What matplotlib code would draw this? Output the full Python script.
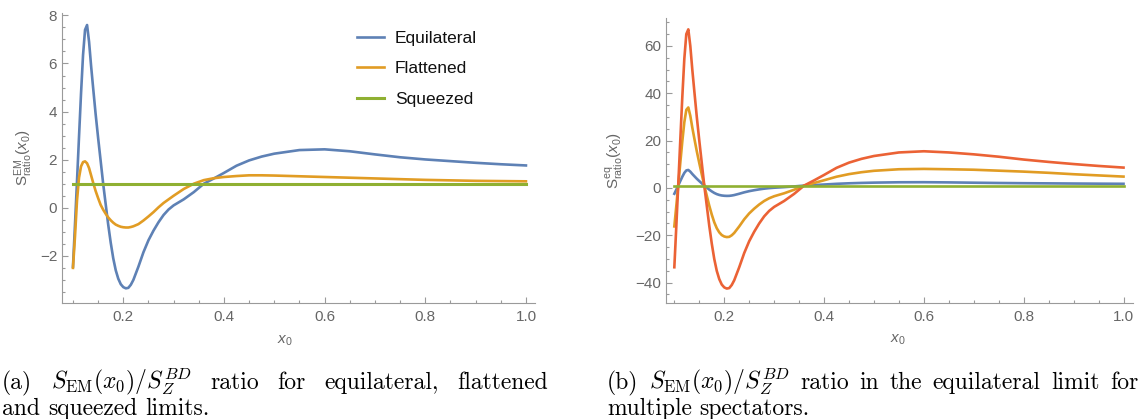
import matplotlib
matplotlib.use("Agg")
import matplotlib.pyplot as plt
from matplotlib.ticker import MultipleLocator, FixedLocator

# ---------------- data ----------------
x0 = [0.100, 0.104, 0.108, 0.112, 0.116, 0.120, 0.124, 0.128, 0.132, 0.136,
      0.140, 0.145, 0.150, 0.155, 0.160, 0.165, 0.170, 0.175, 0.180, 0.185,
      0.190, 0.195, 0.200, 0.205, 0.210, 0.215, 0.220, 0.230, 0.240, 0.250,
      0.260, 0.270, 0.280, 0.290, 0.300, 0.320, 0.340, 0.360, 0.380, 0.400,
      0.425, 0.450, 0.475, 0.500, 0.550, 0.600, 0.650, 0.700, 0.750, 0.800,
      0.850, 0.900, 0.950, 1.000]

equilateral = [-2.45, -0.70, 1.10, 2.95, 4.75, 6.35, 7.40, 7.60, 6.90, 5.90,
               5.00, 3.90, 2.90, 1.95, 1.00, 0.15, -0.70, -1.45, -2.10, -2.60,
               -2.95, -3.18, -3.30, -3.35, -3.33, -3.20, -3.00, -2.45, -1.85, -1.35,
               -0.95, -0.60, -0.30, -0.07, 0.10, 0.35, 0.65, 1.00, 1.22, 1.45,
               1.75, 1.97, 2.13, 2.25, 2.40, 2.43, 2.35, 2.22, 2.10, 2.01,
               1.94, 1.87, 1.81, 1.76]

flattened = [-2.50, -1.20, 0.30, 1.25, 1.72, 1.90, 1.93, 1.85, 1.65, 1.35,
             1.05, 0.70, 0.40, 0.12, -0.08, -0.25, -0.40, -0.52, -0.62, -0.70,
             -0.75, -0.79, -0.81, -0.82, -0.82, -0.80, -0.77, -0.68, -0.53, -0.36,
             -0.18, 0.02, 0.20, 0.35, 0.50, 0.78, 1.00, 1.15, 1.23, 1.28,
             1.32, 1.35, 1.35, 1.34, 1.31, 1.28, 1.25, 1.22, 1.19, 1.16,
             1.14, 1.12, 1.11, 1.10]

squeezed = [1.0] * len(x0)

# right panel: equilateral limit for several spectators
spect_orange = [-16.25, -7.5, 1.5, 10.75, 19.75, 27.75, 33.0, 34.0, 30.5, 25.5,
                21.0, 15.5, 10.5, 5.75, 1.0, -3.25, -7.5, -11.25, -14.5, -17.0,
                -18.75, -19.9, -20.5, -20.75, -20.65, -20.0, -19.0, -16.25, -13.25, -10.75,
                -8.75, -7.0, -5.5, -4.35, -3.5, -2.25, -0.75, 1.0, 2.1, 3.25,
                4.75, 5.85, 6.65, 7.25, 7.9, 8.05, 7.9, 7.7, 7.3, 6.9,
                6.4, 5.8, 5.3, 4.8]

spect_red = [-33.5, -16.0, 2.0, 20.5, 38.5, 54.5, 65.0, 67.0, 60.0, 50.0,
             41.0, 30.0, 20.0, 10.5, 1.0, -7.5, -16.0, -23.5, -30.0, -35.0,
             -38.5, -40.8, -42.0, -42.5, -42.3, -41.0, -39.0, -33.5, -27.5, -22.5,
             -18.5, -15.0, -12.0, -9.7, -8.0, -5.5, -2.5, 1.0, 3.2, 5.5,
             8.5, 10.7, 12.3, 13.5, 15.0, 15.5, 15.0, 14.2, 13.2, 12.0,
             11.0, 10.1, 9.3, 8.6]

spect_green = [1.0] * len(x0)

legend_labels = ["Equilateral", "Flattened", "Squeezed"]
x_major = [0.2, 0.4, 0.6, 0.8, 1.0]

# ---------------- style ----------------
plt.rcParams['font.family'] = ['Liberation Sans', 'DejaVu Sans']
plt.rcParams['mathtext.fontset'] = 'custom'
plt.rcParams['mathtext.rm'] = 'Liberation Sans'
plt.rcParams['mathtext.it'] = 'Liberation Sans:italic'
plt.rcParams['mathtext.bf'] = 'Liberation Sans:bold'
plt.rcParams['mathtext.sf'] = 'Liberation Sans'

C_BLUE = '#5E81B5'
C_ORANGE = '#E19C24'
C_GREEN = '#8FB032'
C_RED = '#EB6235'
AX_COL = '#9a9a9a'
LBL_COL = '#666666'
LW = 1.9

W, H = 1140, 419
fig = plt.figure(figsize=(W / 100, H / 100), dpi=100)
axL = fig.add_axes([62 / W, 116 / H, 473 / W, 290 / H])
axR = fig.add_axes([666 / W, 116 / H, 467 / W, 285 / H])


def style(ax, ymajor, yminor):
    for s in ('top', 'right'):
        ax.spines[s].set_visible(False)
    for s in ('left', 'bottom'):
        ax.spines[s].set_color(AX_COL)
        ax.spines[s].set_linewidth(0.8)
    ax.xaxis.set_major_locator(FixedLocator(x_major))
    ax.xaxis.set_minor_locator(MultipleLocator(0.05))
    ax.yaxis.set_major_locator(MultipleLocator(ymajor))
    ax.yaxis.set_minor_locator(MultipleLocator(yminor))
    ax.tick_params(which='both', direction='in', color=AX_COL, width=0.8,
                   labelcolor=LBL_COL, labelsize=11)
    ax.tick_params(which='major', length=4)
    ax.tick_params(which='minor', length=2.3)
    ax.tick_params(axis='x', pad=5)
    ax.tick_params(axis='y', pad=3.5)
    ax.xaxis.set_major_formatter(matplotlib.ticker.FuncFormatter(lambda v, p: f"{v:.1f}"))


# ---------------- left panel ----------------
l1, = axL.plot(x0, equilateral, color=C_BLUE, lw=LW)
l2, = axL.plot(x0, flattened, color=C_ORANGE, lw=LW)
l3, = axL.plot(x0, squeezed, color=C_GREEN, lw=LW + 0.3)
axL.set_xlim(0.0782, 1.018)
axL.set_ylim(-3.96, 8.1)
style(axL, 2, 0.5)
axL.set_xlabel(r'$x_0$', color=LBL_COL, fontsize=11)
axL.xaxis.set_label_coords(0.471, -0.105)
axL.set_ylabel(r'$\mathrm{S}^{\mathrm{EM}}_{\mathrm{ratio}}(x_0)$', color=LBL_COL, fontsize=11)
axL.yaxis.set_label_coords(-0.058, 0.5)

leg = fig.legend([l1, l2, l3], legend_labels, loc='upper left',
                 bbox_to_anchor=(357 / W, 1 - 31 / H), bbox_transform=fig.transFigure,
                 frameon=False, fontsize=12.5, handlelength=1.55, handletextpad=0.63,
                 labelspacing=0.87, borderpad=0, borderaxespad=0)
for t in leg.get_texts():
    t.set_color('#111111')

# ---------------- right panel ----------------
axR.plot(x0, equilateral, color=C_BLUE, lw=LW)
axR.plot(x0, spect_orange, color=C_ORANGE, lw=LW)
axR.plot(x0, spect_red, color=C_RED, lw=LW)
axR.plot(x0, spect_green, color=C_GREEN, lw=LW)
axR.set_xlim(0.0833, 1.019)
axR.set_ylim(-48.6, 71.8)
style(axR, 20, 5)
axR.set_xlabel(r'$x_0$', color=LBL_COL, fontsize=11)
axR.xaxis.set_label_coords(0.497, -0.105)
axR.set_ylabel(r'$\mathrm{S}^{\mathrm{eq}}_{\mathrm{ratio}}(x_0)$', color=LBL_COL, fontsize=11)
axR.yaxis.set_label_coords(-0.085, 0.5)

# ---------------- captions (justified, LaTeX look) ----------------
CAP_FS = 17
renderer = fig.canvas.get_renderer()


def caption_line(pieces, x_left, x_right, y_base, justify=True):
    texts = []
    for p in pieces:
        t = fig.text(0, 1 - y_base / H, p, fontsize=CAP_FS, family='cmr10',
                     math_fontfamily='cm', va='baseline', ha='left', color='black')
        texts.append(t)
    widths = [t.get_window_extent(renderer).width for t in texts]
    if justify and len(texts) > 1:
        gap = (x_right - x_left - sum(widths)) / (len(texts) - 1)
    else:
        gap = CAP_FS * 100 / 72 * 0.333
    x = x_left
    for t, w in zip(texts, widths):
        t.set_x(x / W)
        x += w + gap


caption_line(["(a)", r"$S_{\rm EM}(x_0)/S_Z^{BD}$", "ratio", "for",
              "equilateral,", "flattened"], 2, 548, 389)
caption_line(["and", "squeezed", "limits."], 2, 548, 415, justify=False)
caption_line(["(b)", r"$S_{\rm EM}(x_0)/S_Z^{BD}$", "ratio", "in", "the",
              "equilateral", "limit", "for"], 607, 1138, 389)
caption_line(["multiple", "spectators."], 607, 1138, 415, justify=False)

fig.savefig("out.png", dpi=100)
